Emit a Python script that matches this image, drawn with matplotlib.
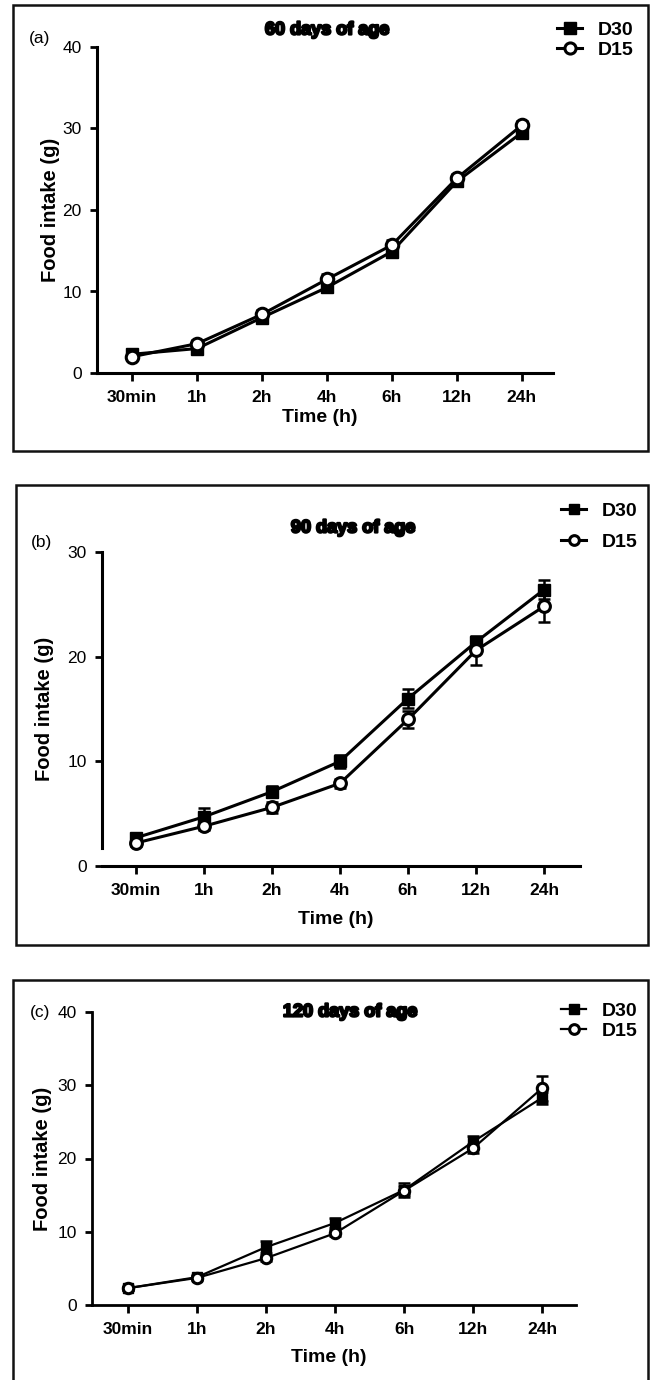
# Food intake over 24 h for D30 / D15 groups at three ages
import matplotlib
matplotlib.use('Agg')
import matplotlib.pyplot as plt
import matplotlib.patheffects as pe
from matplotlib.patches import Rectangle

plt.rcParams['font.family'] = ['Liberation Sans', 'DejaVu Sans']

# data
time_labels = ['30min', '1h', '2h', '4h', '6h', '12h', '24h']
groups = ['D30', 'D15']

# (a) 60 days of age
d30_60 = [2.3, 3.0, 6.8, 10.5, 14.9, 23.5, 29.5]
d15_60 = [2.0, 3.6, 7.2, 11.5, 15.7, 23.9, 30.4]
d30_60_err = [0.4, 0.5, 0.5, 0.6, 0.7, 0.6, 0.6]
d15_60_err = [0.3, 0.4, 0.5, 0.6, 0.6, 0.5, 0.5]

# (b) 90 days of age
d30_90 = [2.7, 4.7, 7.1, 10.0, 16.0, 21.4, 26.4]
d15_90 = [2.2, 3.8, 5.6, 7.9, 14.0, 20.6, 24.8]
d30_90_err = [0.3, 0.8, 0.5, 0.6, 0.9, 0.5, 0.9]
d15_90_err = [0.3, 0.4, 0.5, 0.4, 0.8, 1.4, 1.5]

# (c) 120 days of age
d30_120 = [2.3, 3.8, 7.9, 11.2, 15.7, 22.3, 28.3]
d15_120 = [2.3, 3.7, 6.4, 9.8, 15.6, 21.4, 29.6]
d30_120_err = [0.2, 0.3, 0.8, 0.7, 1.0, 0.8, 0.8]
d15_120_err = [0.2, 0.3, 0.4, 0.4, 0.6, 0.6, 1.7]

W, H = 652, 1380
fig = plt.figure(figsize=(W / 100, H / 100), dpi=100)


def fbox(l, t, r, b):
    # pixel box -> figure fraction [left, bottom, width, height]
    return [l / W, 1 - b / H, (r - l) / W, (b - t) / H]


def fx(x):
    return x / W


def fy(y):
    return 1 - y / H


panels = [
    dict(letter='(a)', title='60 days of age', d30=d30_60, d15=d15_60,
         e30=d30_60_err, e15=d15_60_err, ylim=40, yticks=[0, 10, 20, 30, 40],
         axbox=(97, 47, 553, 373), xlim=(-0.54, 6.48), border=(13, 5, 648, 451),
         title_xy=(327, 30), letter_xy=(40, 38), ylab_x=50, xlab_y=418,
         leg_xy=(557, 21), leg_space=0.12, lw=2.2, ms=9, spine_w=2.2,
         spine_lo=0, leg_ms=8),
    dict(letter='(b)', title='90 days of age', d30=d30_90, d15=d15_90,
         e30=d30_90_err, e15=d15_90_err, ylim=30, yticks=[0, 10, 20, 30],
         axbox=(102, 552, 580, 866), xlim=(-0.5, 6.53), border=(16, 485, 648, 945),
         title_xy=(353, 528), letter_xy=(42, 542), ylab_x=45, xlab_y=919,
         leg_xy=(561, 502), leg_space=0.72, lw=2.2, ms=8.5, spine_w=2.2,
         spine_lo=1.7, leg_ms=7),
    dict(letter='(c)', title='120 days of age', d30=d30_120, d15=d15_120,
         e30=d30_120_err, e15=d15_120_err, ylim=40, yticks=[0, 10, 20, 30, 40],
         axbox=(92, 1012, 576, 1305), xlim=(-0.52, 6.49), border=(13, 980, 648, 1420),
         title_xy=(350, 1012), letter_xy=(40, 1012), ylab_x=42, xlab_y=1358,
         leg_xy=(561, 1002), leg_space=0.15, lw=1.6, ms=7.5, spine_w=2.0,
         spine_lo=0, leg_ms=7),
]

x = list(range(len(time_labels)))

for p in panels:
    # panel frame
    l, t, r, b = p['border']
    fig.patches.append(Rectangle((fx(l), fy(b)), (r - l) / W, (b - t) / H,
                                 transform=fig.transFigure, fill=False,
                                 edgecolor='#111111', linewidth=1.8))

    ax = fig.add_axes(fbox(*p['axbox']))
    # error bars first, lines + markers on top
    ax.errorbar(x, p['d30'], yerr=p['e30'], fmt='none', ecolor='black',
                elinewidth=1.8, capsize=4, capthick=1.8, clip_on=False, zorder=2)
    ax.errorbar(x, p['d15'], yerr=p['e15'], fmt='none', ecolor='black',
                elinewidth=1.8, capsize=4, capthick=1.8, clip_on=False, zorder=2)
    ax.plot(x, p['d30'], color='black', marker='s', ms=p['ms'], mfc='black',
            mec='black', lw=p['lw'], label=groups[0], clip_on=False, zorder=3)
    ax.plot(x, p['d15'], color='black', marker='o', ms=p['ms'], mfc='white',
            mec='black', mew=2.2, lw=p['lw'], label=groups[1], clip_on=False,
            zorder=4)

    ax.set_xlim(*p['xlim'])
    ax.set_ylim(0, p['ylim'])
    ax.set_yticks(p['yticks'])
    ax.set_xticks(x)
    ax.set_xticklabels(time_labels, fontsize=12.5, fontweight='bold')
    ax.tick_params(axis='y', labelsize=12.5, length=5, width=2, pad=6)
    ax.tick_params(axis='x', length=6, width=2, pad=6)
    for s in ['top', 'right']:
        ax.spines[s].set_visible(False)
    for s in ['left', 'bottom']:
        ax.spines[s].set_linewidth(p['spine_w'])
    ax.spines['left'].set_bounds(p['spine_lo'], p['ylim'])

    tx, ty = p['title_xy']
    fig.text(fx(tx), fy(ty), p['title'], ha='center', va='center',
             fontsize=13, fontweight='bold',
             path_effects=[pe.withStroke(linewidth=1.6, foreground='black')])
    lx, ly = p['letter_xy']
    fig.text(fx(lx), fy(ly), p['letter'], ha='center', va='center', fontsize=12.5)

    ax_l, ax_t, ax_r, ax_b = p['axbox']
    fig.text(fx(p['ylab_x']), fy((ax_t + ax_b) / 2), 'Food intake (g)',
             rotation=90, ha='center', va='center', fontsize=14.5, fontweight='bold')
    fig.text(fx((ax_l + ax_r) / 2 - 5), fy(p['xlab_y']), 'Time (h)',
             ha='center', va='center', fontsize=14, fontweight='bold')

    gx, gy = p['leg_xy']
    ax.legend(loc='upper left', bbox_to_anchor=(fx(gx), fy(gy)),
              bbox_transform=fig.transFigure, frameon=False, borderpad=0,
              borderaxespad=0, handlelength=1.3, handletextpad=0.8,
              labelspacing=p['leg_space'], markerscale=p['leg_ms'] / p['ms'],
              prop={'size': 14, 'weight': 'bold'})

fig.savefig('out.png', dpi=100)
